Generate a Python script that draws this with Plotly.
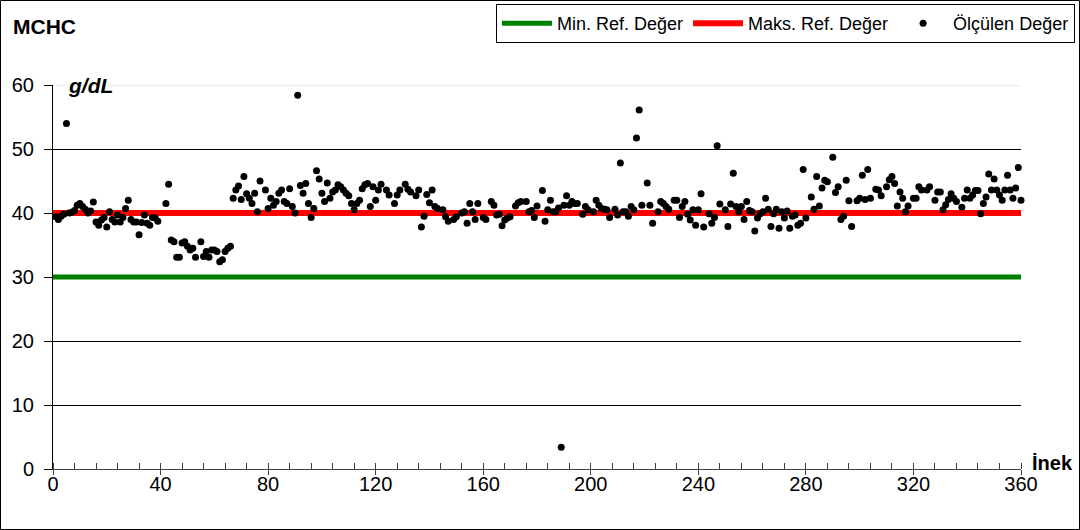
import plotly.graph_objects as go

# MCHC measurements per cow (index 1..360); None where no reading is plotted
mchc = [
    39.4, 39.0, 39.5, 39.8, 54.0, 40.0, 40.1, 40.4, 41.2, 41.5,
    41.0, 40.6, 40.0, 40.3, 41.7, 38.6, 38.1, 38.9, 39.3, 37.8,
    40.2, 39.0, 38.6, 39.7, 38.6, 39.3, 40.7, 42.0, 39.0, 38.6,
    38.6, 36.6, 38.5, 39.7, 38.4, 38.1, 39.3, 39.2, 38.7, None,
    None, 41.5, 44.5, 35.8, 35.5, 33.1, 33.1, 35.3, 35.5, 34.8,
    34.2, 34.5, 33.1, None, 35.5, 33.2, 34.0, 33.1, 34.2, 34.2,
    34.0, 32.4, 32.7, 34.0, 34.5, 34.8, 42.3, 43.6, 44.2, 42.1,
    45.7, 43.0, 42.3, 41.5, 43.1, 40.2, 45.0, None, 43.6, 40.7,
    42.3, 41.2, 41.8, 43.1, 43.6, 41.8, 41.5, 43.8, 41.0, 40.0,
    58.4, 44.3, 43.1, 44.6, 41.5, 39.3, 40.7, 46.6, 45.3, 43.1,
    41.8, 44.7, 42.3, 43.3, 43.6, 44.4, 44.1, 43.6, 43.1, 42.7,
    41.5, 40.5, 41.5, 42.0, 43.8, 44.4, 44.6, 41.0, 44.1, 42.0,
    43.6, 44.5, None, 43.6, 42.8, None, 41.5, 42.8, 43.6, None,
    44.5, 43.7, 43.3, None, 42.7, 43.6, 37.8, 39.5, 42.9, 41.6,
    43.6, 41.0, 40.7, None, 40.5, 39.4, 38.7, None, 39.0, 39.4,
    None, 40.0, 40.2, 38.4, 41.5, 40.2, 39.0, 41.5, None, 39.3,
    39.0, None, 41.8, 41.2, 39.7, 39.8, 38.0, 38.9, 39.2, 39.4,
    None, 41.1, 41.6, 41.8, None, 41.8, 40.2, 40.4, 39.3, 41.1,
    None, 43.5, 38.7, 40.5, 42.0, 40.2, 40.2, 40.8, 3.4, 41.2,
    42.7, 41.2, 41.8, 41.5, 41.5, None, 39.8, 41.0, 40.5, None,
    40.2, 42.0, 41.2, 40.7, 40.6, 40.5, 39.3, None, 40.6, 39.7,
    47.8, 40.2, 40.2, 39.5, 41.0, 40.5, 51.7, 56.1, 41.2, None,
    44.7, 41.2, 38.4, None, 40.2, 41.8, 41.5, 41.0, 40.6, None,
    42.0, 42.0, 39.3, 41.0, 41.8, 39.8, 38.9, 40.5, 38.1, 40.5,
    43.0, 37.8, None, 39.9, 38.4, 39.3, 50.5, 41.4, None, 40.5,
    37.9, 41.4, 46.2, 41.0, 40.2, 41.0, 39.0, 41.8, 40.4, 40.2,
    37.2, 39.2, 39.9, 40.2, 42.3, 40.6, 37.9, 39.9, 40.6, 37.6,
    40.2, 39.2, 40.3, 37.6, 39.5, 39.7, 38.1, 38.4, 46.8, 39.2,
    None, 42.5, 40.6, 45.7, 41.1, 43.9, 45.1, 44.9, None, 48.7,
    43.2, 44.1, 39.0, 39.5, 45.1, 41.9, 37.9, None, 41.9, 42.3,
    45.9, 42.1, 46.8, 42.3, None, 43.7, 43.6, 42.7, None, 44.1,
    45.2, 45.7, 44.6, 41.1, 43.3, 42.3, 40.2, 41.1, None, 42.3,
    42.3, 44.1, 43.6, None, 43.6, 44.1, None, 42.0, 43.3, 43.3,
    40.5, 41.3, 42.1, 43.0, 42.3, 41.8, None, 40.9, 42.3, 43.6,
    42.3, 42.8, 43.5, 43.5, 39.9, 41.5, 42.5, 46.1, 43.6, 45.3,
    43.6, 42.8, 42.0, 43.6, 45.9, 43.6, 42.3, 43.9, 47.1, 42.0,
]
inek = list(range(1, len(mchc) + 1))

# reference limits (g/dL) and their horizontal extent
min_ref = 30
max_ref = 40
ref_span = [0, 360]

x_ticks = [0, 40, 80, 120, 160, 200, 240, 280, 320, 360]
y_ticks = [0, 10, 20, 30, 40, 50, 60]

FONT = "Liberation Sans, Arial, sans-serif"

fig = go.Figure()
fig.add_trace(go.Scatter(
    x=ref_span, y=[min_ref, min_ref], mode="lines",
    line=dict(color="#008000", width=5), name="Min. Ref. Değer",
    cliponaxis=False,
))
fig.add_trace(go.Scatter(
    x=ref_span, y=[max_ref, max_ref], mode="lines",
    line=dict(color="#FF0000", width=6), name="Maks. Ref. Değer",
    cliponaxis=False,
))
fig.add_trace(go.Scatter(
    x=inek, y=mchc, mode="markers",
    marker=dict(color="black", size=7), name="Ölçülen Değer",
    cliponaxis=False,
))

W, H = 1080, 530
L, R, T, B = 53, 59, 85, 61
pw, ph = W - L - R, H - T - B


def px_x(p):
    return (p - L) / pw


def px_y(p):
    return (H - B - p) / ph


fig.update_layout(
    width=W, height=H,
    margin=dict(l=L, r=R, t=T, b=B, autoexpand=False),
    paper_bgcolor="white", plot_bgcolor="white",
    font=dict(family=FONT, size=20, color="black"),
    showlegend=True,
    legend=dict(
        orientation="h",
        x=px_x(1075), xanchor="right",
        y=px_y(4), yanchor="top",
        bgcolor="white", bordercolor="black", borderwidth=1,
        font=dict(size=18),
        itemwidth=50,
        tracegroupgap=0,
    ),
    xaxis=dict(
        range=[0, 360], tickvals=x_ticks, ticktext=[str(v) for v in x_ticks],
        showgrid=False, zeroline=False,
        showline=True, linecolor="#404040", linewidth=1,
        ticks="outside", ticklen=5, tickcolor="#404040",
        ticklabelstandoff=-8,
        minor=dict(dtick=8, ticks="inside", ticklen=6, tickcolor="#404040", showgrid=False),
        tickfont=dict(size=20),
    ),
    yaxis=dict(
        range=[0, 60], tickvals=y_ticks,
        showgrid=True, gridcolor="black", gridwidth=1,
        zeroline=False,
        showline=True, linecolor="black", linewidth=1,
        ticks="outside", ticklen=8, tickcolor="black",
        ticklabelstandoff=6,
        tickfont=dict(size=20),
    ),
    shapes=[
        # light top boundary of the plotting area
        dict(type="line", xref="paper", yref="y", x0=0, x1=1, y0=60, y1=60,
             line=dict(color="#d9d9d9", width=1), layer="below"),
        # outer frame of the chart
        dict(type="rect", xref="paper", yref="paper",
             x0=px_x(0.5), x1=px_x(W - 0.5), y0=px_y(H - 0.5), y1=px_y(0.5),
             line=dict(color="black", width=1), fillcolor="rgba(0,0,0,0)"),
    ],
    annotations=[
        dict(text="<b>MCHC</b>", xref="paper", yref="paper",
             x=px_x(11), y=px_y(27), xanchor="left", yanchor="middle",
             showarrow=False, font=dict(size=21)),
        dict(text="<b><i>g/dL</i></b>", xref="paper", yref="paper",
             x=px_x(66), y=px_y(85), xanchor="left", yanchor="middle",
             showarrow=False, font=dict(size=21)),
        dict(text="<b>İnek</b>", xref="paper", yref="paper",
             x=px_x(1030), y=px_y(463), xanchor="left", yanchor="middle",
             showarrow=False, font=dict(size=20)),
    ],
)

fig.write_html("out.html")
